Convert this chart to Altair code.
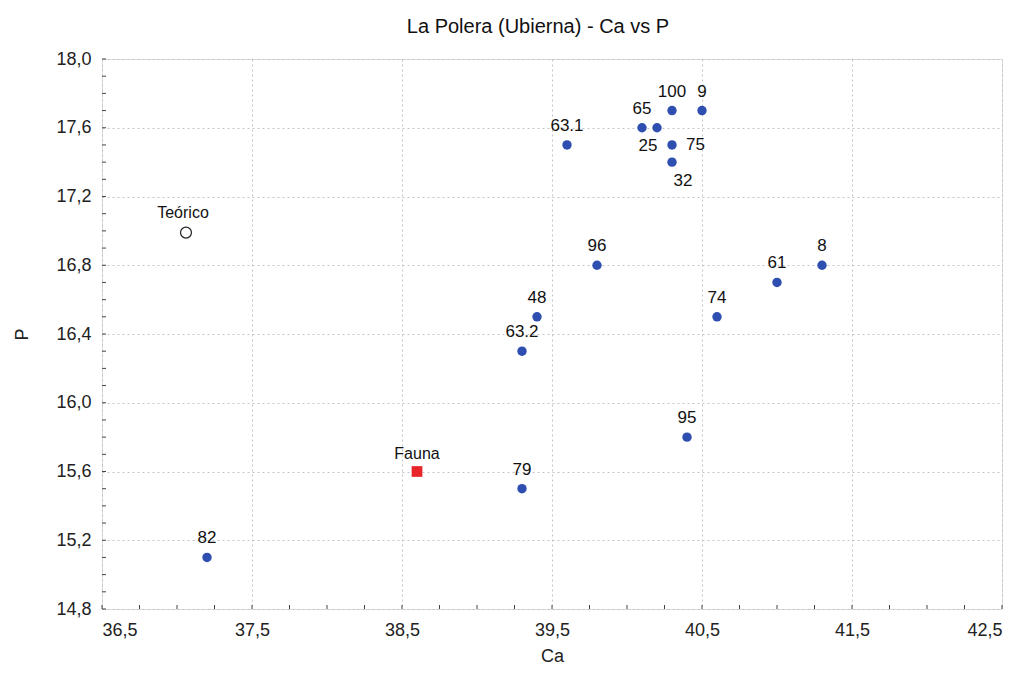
import altair as alt
import pandas as pd

# Sample points (blue)
names = ["82", "79", "63.2", "48", "96", "63.1", "65", "25", "100", "9", "75", "32", "95", "74", "61", "8"]
ca = [37.2, 39.3, 39.3, 39.4, 39.8, 39.6, 40.1, 40.2, 40.3, 40.5, 40.3, 40.3, 40.4, 40.6, 41.0, 41.3]
p = [15.1, 15.5, 16.3, 16.5, 16.8, 17.5, 17.6, 17.6, 17.7, 17.7, 17.5, 17.4, 15.8, 16.5, 16.7, 16.8]
label_pos = ["above", "above", "above", "above", "above", "above", "above", "belowleft",
             "above", "above", "right", "belowright", "above", "above", "above", "above"]

# Reference points
fauna_ca = [38.6]
fauna_p = [15.6]
teorico_ca = [37.06]
teorico_p = [16.99]

x_major = [36.5, 37.5, 38.5, 39.5, 40.5, 41.5, 42.5]
y_major = [14.8, 15.2, 15.6, 16.0, 16.4, 16.8, 17.2, 17.6, 18.0]
x_minor = [round(36.5 + 0.25 * i, 2) for i in range(25)]
y_minor = [round(14.8 + 0.1 * i, 2) for i in range(33)]

W, H = 900, 550
FONT = "Liberation Sans"

df = pd.DataFrame({"name": names, "Ca": ca, "P": p, "pos": label_pos})
df_f = pd.DataFrame({"name": ["Fauna"], "Ca": fauna_ca, "P": fauna_p})
df_t = pd.DataFrame({"name": ["Teórico"], "Ca": teorico_ca, "P": teorico_p})
df_xt = pd.DataFrame({"v": x_minor})
df_yt = pd.DataFrame({"v": y_minor})

lab = "replace(format(datum.value, '.1f'), '.', ',')"
xscale = alt.Scale(domain=[36.5, 42.5], nice=False, zero=False)
yscale = alt.Scale(domain=[14.8, 18.0], nice=False, zero=False)

xax = alt.Axis(values=x_major, labelExpr=lab, title="Ca", grid=True, gridDash=[2, 3],
               gridColor="#c4c4c4", ticks=False, domain=False, labelFontSize=18,
               labelPadding=12, titleFontSize=18, titleFont=FONT, labelFont=FONT,
               titleFontWeight="normal", titlePadding=8, labelColor="#222", titleColor="#222")
yax = alt.Axis(values=y_major, labelExpr=lab, title="P", grid=True, gridDash=[2, 3],
               gridColor="#c4c4c4", ticks=False, domain=False, labelFontSize=18,
               labelPadding=11, titleFontSize=18, titleFont=FONT, labelFont=FONT,
               titleFontWeight="normal", titlePadding=24, labelColor="#222", titleColor="#222")

x = alt.X("Ca:Q", scale=xscale, axis=xax)
y = alt.Y("P:Q", scale=yscale, axis=yax)

pts = alt.Chart(df).mark_circle(size=88, color="#2E4FB0", opacity=1).encode(x=x, y=y)

def txt(pos, dx, dy, align="center"):
    return alt.Chart(df).transform_filter(alt.datum.pos == pos).mark_text(
        font=FONT, fontSize=17, color="#111", dx=dx, dy=dy, align=align
    ).encode(x=alt.X("Ca:Q", scale=xscale), y=alt.Y("P:Q", scale=yscale), text="name:N")

t_above = txt("above", 0, -19)
t_bl = txt("belowleft", -9, 18)
t_r = txt("right", 14, 0, "left")
t_br = txt("belowright", 11, 19)

fauna = alt.Chart(df_f).mark_square(size=115, color="#E8262A", opacity=1).encode(
    x=alt.X("Ca:Q", scale=xscale), y=alt.Y("P:Q", scale=yscale))
fauna_t = alt.Chart(df_f).mark_text(font=FONT, fontSize=16, color="#111", dy=-18).encode(
    x=alt.X("Ca:Q", scale=xscale), y=alt.Y("P:Q", scale=yscale), text="name:N")
teo = alt.Chart(df_t).mark_point(size=120, filled=False, color="#222", strokeWidth=1.2, opacity=1).encode(
    x=alt.X("Ca:Q", scale=xscale), y=alt.Y("P:Q", scale=yscale))
teo_t = alt.Chart(df_t).mark_text(font=FONT, fontSize=16, color="#111", dx=-3, dy=-20).encode(
    x=alt.X("Ca:Q", scale=xscale), y=alt.Y("P:Q", scale=yscale), text="name:N")

xt = alt.Chart(df_xt).mark_rule(color="#444", strokeWidth=1).encode(
    x=alt.X("v:Q", scale=xscale), y=alt.value(H), y2=alt.value(H - 4))
yt = alt.Chart(df_yt).mark_rule(color="#444", strokeWidth=1).encode(
    y=alt.Y("v:Q", scale=yscale), x=alt.value(0), x2=alt.value(4))

chart = alt.layer(xt, yt, pts, t_above, t_bl, t_r, t_br, fauna, fauna_t, teo, teo_t).properties(
    width=W, height=H,
    title=alt.TitleParams("La Polera (Ubierna) - Ca vs P", font=FONT, fontSize=20,
                          fontWeight="normal", color="#111", offset=13, dx=-14),
    padding={"left": 94, "top": 51, "right": 16, "bottom": 60},
    autosize=alt.AutoSizeParams(type="none"),
).configure_view(stroke="#444", strokeWidth=1.2).configure(background="white")

chart.save("out.html", embed_options={"renderer": "svg", "actions": False})
